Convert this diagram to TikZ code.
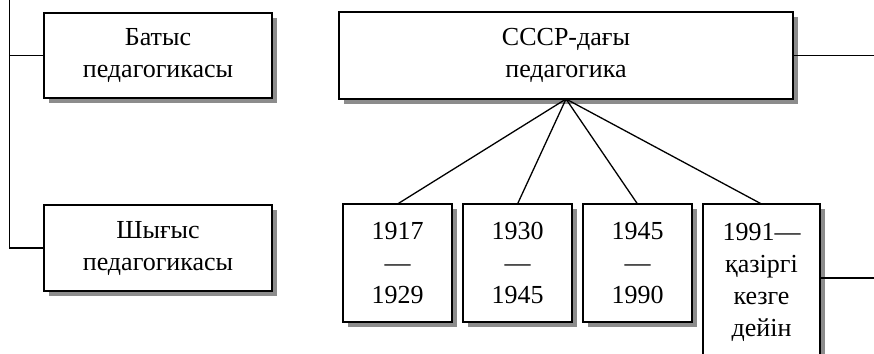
\documentclass[tikz,border=0pt]{standalone}
\usepackage{fontspec}
\setmainfont{Liberation Serif}
\usetikzlibrary{positioning, shadows}

\begin{document}
\begin{tikzpicture}[x=1pt, y=-1pt, font=\fontsize{26}{32}\selectfont]
    \tikzstyle{blok} = [rectangle, draw=black, line width=2.2pt, fill=white, align=center, outer sep=0pt,
      drop shadow={shadow xshift=5pt, shadow yshift=-5pt, fill=black!45, opacity=1}]
    \tikzstyle{link} = [draw=black, line width=1.3pt]
    \useasboundingbox (0,0) rectangle (874,353);

    \node (batys)  [blok, minimum width=228pt, minimum height=85pt] at (158,55.5) {Батыс\\педагогикасы};
    \node (shygys) [blok, minimum width=228pt, minimum height=86pt] at (158,248) {Шығыс\\педагогикасы};
    \node (ussr)   [blok, minimum width=454pt, minimum height=87pt] at (566,55.5) {СССР-дағы\\педагогика};

    \node (p1) [blok, minimum width=109pt, minimum height=118pt] at (397.5,263) {1917\\—\\1929};
    \node (p2) [blok, minimum width=109pt, minimum height=118pt, right=11pt of p1] {1930\\—\\1945};
    \node (p3) [blok, minimum width=109pt, minimum height=118pt, right=11pt of p2] {1945\\—\\1990};
    \node (p4) [blok, minimum width=117pt, inner ysep=19pt, right=11pt of p3.north east, anchor=north west]
      {1991—\\қазіргі\\кезге\\дейін};

    \coordinate (ltop) at (9.5,0);
    \coordinate (redge) at (874,0);

    \draw [link] (ltop) |- (shygys.west);
    \draw [link] (ltop |- batys.west) -- (batys.west);
    \draw [link] (ussr.east) -- (ussr.east -| redge);
    \draw [link] ([yshift=-74pt]p4.north east) -- ([yshift=-74pt]p4.north east -| redge);

    \draw [link] (ussr.south) -- (p1.north);
    \draw [link] (ussr.south) -- (p2.north);
    \draw [link] (ussr.south) -- (p3.north);
    \draw [link] (ussr.south) -- (p4.north);
\end{tikzpicture}
\end{document}
